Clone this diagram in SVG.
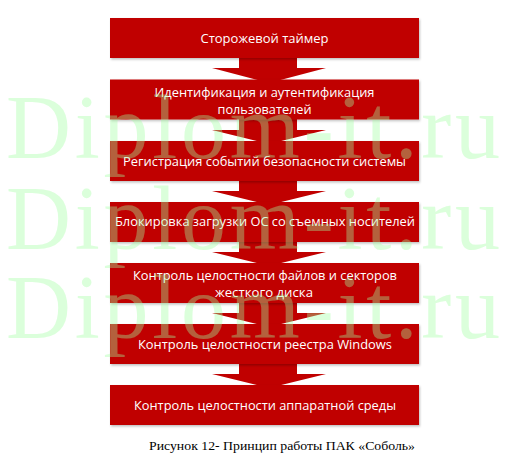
<svg xmlns="http://www.w3.org/2000/svg" width="505" height="460" viewBox="0 0 505 460">
<defs>
<style>
.box{fill:#C00000;filter:url(#sh)}
.arr{fill:#C00000}
.t{font-family:"Open Sans","Noto Sans","Liberation Sans",sans-serif;font-size:13px;fill:#FFFFFF;text-anchor:middle}
.wm{font-family:"Liberation Serif","Times New Roman",serif;font-size:90px;fill:#A0FFA0;fill-opacity:0.38}
.cap{font-family:"Liberation Serif","Times New Roman",serif;font-size:12px;fill:#000000}
</style>
<filter id="sh" x="-5%" y="-20%" width="110%" height="150%">
<feDropShadow dx="1" dy="1.5" stdDeviation="1" flood-color="#000000" flood-opacity="0.25"/>
</filter>
</defs>
<rect width="505" height="460" fill="#FFFFFF"/>
<g id="connectors">
<path class="arr" d="M239,58H297V68H326L269,83L212,68H239Z"/>
<path class="arr" d="M239,119H297V130H326L269,144L212,130H239Z"/>
<path class="arr" d="M239,181H297V191H326L269,205L212,191H239Z"/>
<path class="arr" d="M239,242H297V252H326L269,266L212,252H239Z"/>
<path class="arr" d="M239,303H297V313H326L269,327L212,313H239Z"/>
<path class="arr" d="M239,364H297V374H326L269,388L212,374H239Z"/>
</g>
<g id="n1"><rect class="box" x="110" y="18" width="309" height="40"/><text class="t" x="264.5" y="42.5" textLength="128" lengthAdjust="spacingAndGlyphs">Сторожевой таймер</text></g>
<g id="n2"><rect class="box" x="110" y="79.5" width="309" height="40"/><text class="t" x="264.5" y="96.5" textLength="220" lengthAdjust="spacingAndGlyphs">Идентификация и аутентификация</text><text class="t" x="264.5" y="113.5" textLength="94" lengthAdjust="spacingAndGlyphs">пользователей</text></g>
<g id="n3"><rect class="box" x="110" y="141" width="309" height="40"/><text class="t" x="264.5" y="166" textLength="283" lengthAdjust="spacingAndGlyphs">Регистрация событий безопасности системы</text></g>
<g id="n4"><rect class="box" x="110" y="202" width="309" height="40"/><text class="t" x="265" y="226" textLength="300" lengthAdjust="spacingAndGlyphs">Блокировка загрузки ОС со съемных носителей</text></g>
<g id="n5"><rect class="box" x="110" y="263" width="309" height="40"/><text class="t" x="265" y="279.5" textLength="264" lengthAdjust="spacingAndGlyphs">Контроль целостности файлов и секторов</text><text class="t" x="264" y="296.5" textLength="98" lengthAdjust="spacingAndGlyphs">жесткого диска</text></g>
<g id="n6"><rect class="box" x="110" y="324" width="309" height="40"/><text class="t" x="265" y="349" textLength="254" lengthAdjust="spacingAndGlyphs">Контроль целостности реестра Windows</text></g>
<g id="n7"><rect class="box" x="110" y="385" width="309" height="40"/><text class="t" x="265" y="409.5" textLength="262" lengthAdjust="spacingAndGlyphs">Контроль целостности аппаратной среды</text></g>
<g id="watermark">
<text class="wm" x="6" y="158" textLength="494" lengthAdjust="spacing">Diplom-it.ru</text>
<text class="wm" x="6" y="249" textLength="494" lengthAdjust="spacing">Diplom-it.ru</text>
<text class="wm" x="6" y="338" textLength="494" lengthAdjust="spacing">Diplom-it.ru</text>
</g>
<text class="cap" x="149" y="450" textLength="266" lengthAdjust="spacingAndGlyphs">Рисунок 12- Принцип работы ПАК «Соболь»</text>
</svg>
